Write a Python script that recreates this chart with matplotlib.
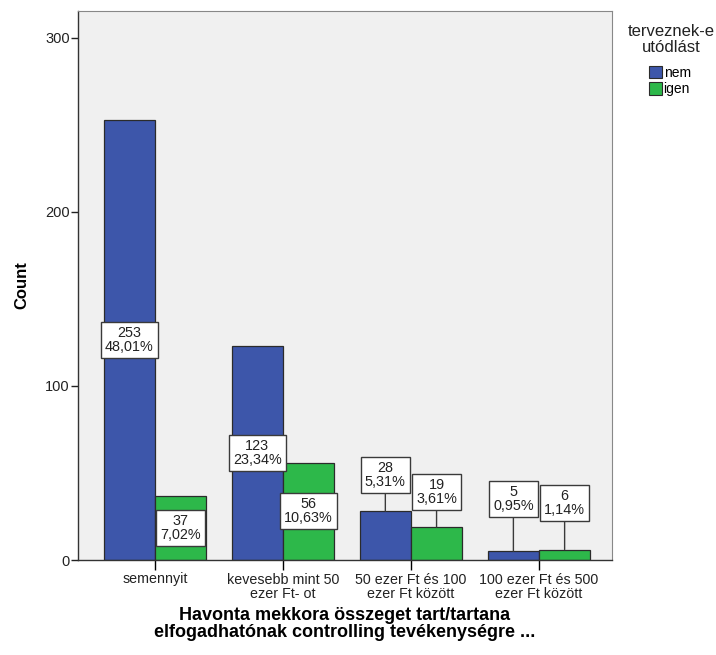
import matplotlib
matplotlib.use("Agg")
import matplotlib.pyplot as plt
import numpy as np
from matplotlib.patches import Patch

plt.rcParams['font.family'] = ['Liberation Sans', 'DejaVu Sans']

categories = ["semennyit", "kevesebb mint 50\nezer Ft- ot",
              "50 ezer Ft és 100\nezer Ft között", "100 ezer Ft és 500\nezer Ft között"]
series_names = ["nem", "igen"]
nem_counts = [253, 123, 28, 5]
igen_counts = [37, 56, 19, 6]
nem_pct = ["48,01%", "23,34%", "5,31%", "0,95%"]
igen_pct = ["7,02%", "10,63%", "3,61%", "1,14%"]

# label centre heights for the callout boxes (None = centre of bar)
nem_label_y = [None, None, 49, 35]
igen_label_y = [None, None, 39, 33]

colors = ["#3D56AA", "#2DB84A"]
W, H = 716, 655
fig = plt.figure(figsize=(W / 100, H / 100), dpi=100)
ax = fig.add_axes([78 / W, 1 - 560 / H, (612 - 78) / W, (560 - 11) / H])
ax.set_facecolor("#F0F0F0")

x = np.arange(len(categories))
bw = 0.4
series = [(nem_counts, nem_pct, nem_label_y, -bw / 2),
          (igen_counts, igen_pct, igen_label_y, bw / 2)]
for (counts, pcts, ly, off), col in zip(series, colors):
    ax.bar(x + off, counts, width=bw, color=col, edgecolor="#2b2b2b", linewidth=0.9, zorder=2)
    for xi, c, p, y in zip(x, counts, pcts, ly):
        txt = f"{c}\n{p}"
        box = dict(boxstyle="square,pad=0.28", fc="white", ec="#3a3a3a", lw=1.0)
        if y is None:
            ax.text(xi + off, c / 2, txt, ha="center", va="center", fontsize=10.4,
                    linespacing=1.0, bbox=box, zorder=4, color="#222222")
        else:
            ax.annotate(txt, xy=(xi + off, c), xytext=(xi + off, y), textcoords="data",
                        ha="center", va="center", fontsize=10.4, linespacing=1.0,
                        bbox=box, zorder=4, color="#222222",
                        arrowprops=dict(arrowstyle="-", color="#3a3a3a", lw=1.0,
                                        shrinkA=0, shrinkB=0))

ax.set_xlim(-0.6, 3.57)
ax.set_ylim(0, 315.5)
ax.set_yticks([0, 100, 200, 300])
ax.set_xticks(x)
ax.set_xticklabels(categories, fontsize=10.3, linespacing=1.0, color="#222222")
ax.tick_params(axis="y", labelsize=10.5, length=5, width=1, colors="#222222", pad=1)
ax.tick_params(axis="x", length=7, width=1, pad=2)
for s in ["left", "bottom"]:
    ax.spines[s].set_color("#333333")
    ax.spines[s].set_linewidth(1.0)
for s in ["top", "right"]:
    ax.spines[s].set_color("#888888")
    ax.spines[s].set_linewidth(0.8)

ax.set_ylabel("Count", fontsize=12, fontweight="bold", labelpad=11)
ax.set_xlabel("Havonta mekkora összeget tart/tartana\nelfogadhatónak controlling tevékenységre ...",
              fontsize=13, fontweight="bold", labelpad=5, linespacing=0.95)

# legend title and entries
fig.text(671 / W, 1 - 24 / H, "terveznek-e\nutódlást", ha="center", va="top",
         fontsize=12, linespacing=1.05, color="#222222")
handles = [Patch(facecolor=c, edgecolor="#2b2b2b", lw=0.8) for c in colors]
leg = fig.legend(handles, series_names, loc="upper left",
                 bbox_to_anchor=(649 / W, 1 - 66 / H),
                 frameon=False, fontsize=10, borderpad=0.0, borderaxespad=0.0,
                 handlelength=0.9, handleheight=1.0, handletextpad=0.15,
                 labelspacing=0.15)

fig.savefig("out.png", dpi=100, facecolor="white")
